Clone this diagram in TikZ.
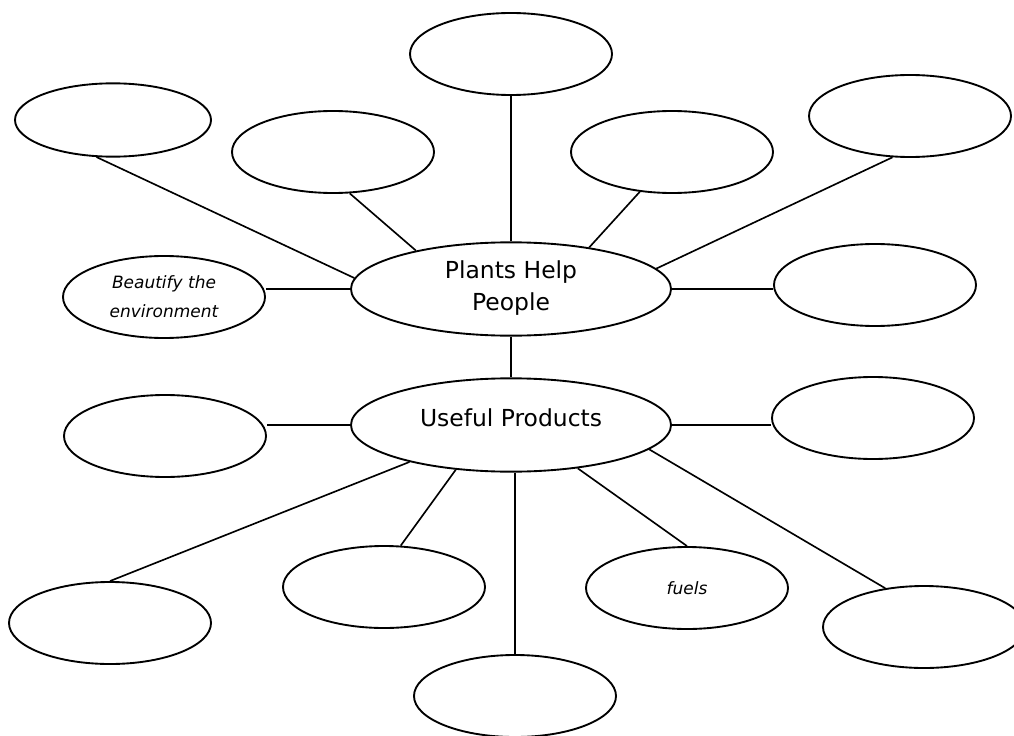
\documentclass[tikz,border=0pt]{standalone}
\usepackage{fontspec}
\setmainfont{DejaVu Sans}
\usetikzlibrary{shapes.geometric}
\tikzset{
	bubble/.style={ellipse, draw, line width=1.6pt, inner sep=0pt, minimum width=6.06cm, minimum height=2.46cm, align=center},
	hub/.style={bubble, minimum width=9.6cm, minimum height=2.8cm, font=\fontsize{20}{27}\selectfont},
	note/.style={font=\itshape\fontsize{14.5}{25}\selectfont},
	link/.style={line width=1.4pt}
}
\begin{document}
\begin{tikzpicture}[x=0.03cm,y=-0.03cm]
	\useasboundingbox (0,0) rectangle (1014,736);
	\clip (0,0) rectangle (1014,736);
	% the two centre ideas
	\node[hub, text depth=0.2cm] (P) at (511,289) {Plants Help\\People};
	\node[hub, text depth=0.45cm] (U) at (511,425) {Useful Products};
	% upper ring
	\node[bubble, minimum width=5.88cm, minimum height=2.2cm] (tl) at (113,120) {};
	\node[bubble] (ls) at (333,152) {};
	\node[bubble] (tc) at (511,54) {};
	\node[bubble] (rs) at (672,152) {};
	\node[bubble] (tr) at (910,116) {};
	\node[bubble, note] (beaut) at (164,297) {Beautify the\\environment};
	\node[bubble] (rt) at (875,285) {};
	% lower ring
	\node[bubble] (lu) at (165,436) {};
	\node[bubble] (ru) at (873,418) {};
	\node[bubble] (blf) at (110,623) {};
	\node[bubble] (bl2) at (384,587) {};
	\node[bubble] (bc) at (515,696) {};
	\node[bubble, note] (fuels) at (687,588) {fuels};
	\node[bubble] (brf) at (924,627) {};
	% connectors
	\draw[link] (tl.246.6) -- (P.176.8);
	\draw[link] (ls.292) -- (P.158);
	\draw[link] (tc) -- (P);
	\draw[link] (rs.231.7) -- (P.28.4);
	\draw[link] (tr.247.5) -- (P.8.6);
	\draw[link] (P.west) -- (P.west -| beaut.east);
	\draw[link] (P.east) -- (P.east -| rt.west);
	\draw[link] (P.south) -- (U.north);
	\draw[link] (U.west) -- (U.west -| lu.east);
	\draw[link] (U.east) -- (U.east -| ru.west);
	\draw[link] (blf.north) -- (U.200.6);
	\draw[link] (bl2.68.7) -- (U.219);
	\draw[link] (bc.north) -- (bc.north |- U.south);
	\draw[link] (fuels.north) -- (U.327.7);
	\draw[link] (brf.135) -- (U.350.5);
\end{tikzpicture}
\end{document}
